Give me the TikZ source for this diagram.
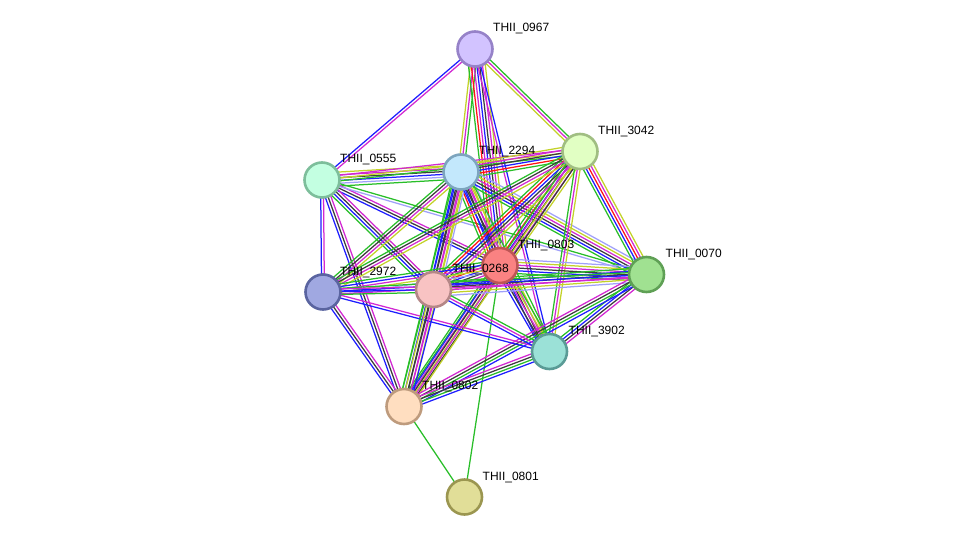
\documentclass[tikz,border=0pt]{standalone}
\usepackage{fontspec}
\setmainfont{Liberation Sans}
\usetikzlibrary{calc,backgrounds}
\definecolor{gn}{RGB}{40,190,40}
\definecolor{rd}{RGB}{255,20,20}
\definecolor{bl}{RGB}{30,30,255}
\definecolor{bk}{RGB}{60,60,60}
\definecolor{mg}{RGB}{210,40,210}
\definecolor{yl}{RGB}{195,210,40}
\definecolor{lb}{RGB}{160,160,250}
\definecolor{fA}{RGB}{210,195,255}\definecolor{dA}{RGB}{150,130,200}
\definecolor{fB}{RGB}{225,255,195}\definecolor{dB}{RGB}{160,190,130}
\definecolor{fC}{RGB}{195,255,225}\definecolor{dC}{RGB}{125,190,155}
\definecolor{fD}{RGB}{195,232,252}\definecolor{dD}{RGB}{125,165,190}
\definecolor{fE}{RGB}{250,130,130}\definecolor{dE}{RGB}{190,85,85}
\definecolor{fF}{RGB}{160,225,145}\definecolor{dF}{RGB}{95,160,85}
\definecolor{fG}{RGB}{160,168,225}\definecolor{dG}{RGB}{90,100,160}
\definecolor{fH}{RGB}{248,195,195}\definecolor{dH}{RGB}{180,135,135}
\definecolor{fI}{RGB}{155,225,215}\definecolor{dI}{RGB}{90,155,150}
\definecolor{fJ}{RGB}{255,222,192}\definecolor{dJ}{RGB}{190,155,125}
\definecolor{fK}{RGB}{225,222,152}\definecolor{dK}{RGB}{155,150,80}
\tikzset{
  prot/.style={circle,minimum size=35pt,inner sep=0pt,line width=2.6pt,fill=f#1,draw=d#1},
  lab/.style={anchor=west,inner sep=0pt,font=\fontsize{12}{14}\selectfont,text=black},
  edgeline/.style={line width=1.25pt}
}
\newcommand\edgeset[3]{%
  \foreach \c [count=\i] in {#3} {\xdef\ncount{\i}}%
  \foreach \c [count=\i] in {#3} {%
    \pgfmathsetmacro\o{(\i-(\ncount+1)/2)*2.8}%
    \draw[edgeline,draw=\c] ($(#1)!\o pt!90:(#2)$) -- ($(#2)!\o pt!-90:(#1)$);%
  }%
}
\begin{document}
\begin{tikzpicture}[x=1pt,y=-1pt]
\useasboundingbox (0,0) rectangle (976,543);
% nodes
\node[prot=A] (A) at (475,49) {};
\node[prot=B] (B) at (580,151.5) {};
\node[prot=C] (C) at (322,180) {};
\node[prot=D] (D) at (461,172) {};
\node[prot=E] (E) at (500,265.5) {};
\node[prot=F] (F) at (646.5,274.5) {};
\node[prot=G] (G) at (323,292) {};
\node[prot=H] (H) at (433.5,289.5) {};
\node[prot=I] (I) at (549.5,351.5) {};
\node[prot=J] (J) at (404,406.5) {};
\node[prot=K] (K) at (464.5,497) {};
% edges
\begin{scope}[on background layer]
\fill[white] (0,0) rectangle (976,543);
\edgeset{A}{C}{bl,mg}
\edgeset{A}{B}{yl,mg,gn}
\edgeset{A}{D}{yl,mg,gn}
\edgeset{A}{E}{gn,rd,mg,bl,bk,mg,yl}
\edgeset{A}{I}{mg,bl}
\edgeset{C}{D}{gn,lb,bl,bk,mg,yl}
\edgeset{C}{B}{gn,yl,mg}
\edgeset{C}{E}{bl,bk,mg}
\edgeset{C}{F}{lb,gn}
\edgeset{C}{G}{bl,mg}
\edgeset{C}{H}{gn,bl,bk,mg}
\edgeset{C}{J}{bl,bk,mg}
\edgeset{D}{B}{gn,rd,bl,bk,mg,yl}
\edgeset{D}{E}{gn,rd,bl,bk,mg,yl,lb}
\edgeset{D}{H}{gn,bl,bk,mg,yl,lb}
\edgeset{D}{G}{gn,bk,mg,yl}
\edgeset{D}{F}{gn,bl,bk,mg,yl,lb}
\edgeset{D}{I}{bl,bk,mg,yl,gn}
\edgeset{D}{J}{gn,bl,bk,mg,yl}
\edgeset{B}{E}{gn,rd,bl,bk,mg,yl}
\edgeset{B}{H}{gn,rd,bl,bk,mg,yl}
\edgeset{B}{G}{gn,bk,mg,yl}
\edgeset{B}{F}{gn,bl,rd,mg,yl}
\edgeset{B}{I}{gn,mg,yl}
\edgeset{B}{J}{gn,mg,yl,bk}
\edgeset{E}{F}{gn,bl,bk,mg,yl,lb}
\edgeset{E}{H}{gn,rd,bl,bk,mg,yl}
\edgeset{E}{G}{gn,bl,mg,yl,lb}
\edgeset{E}{I}{bl,bk,mg,yl,gn}
\edgeset{E}{J}{gn,bl,bk,mg,yl}
\edgeset{E}{K}{gn}
\edgeset{F}{H}{gn,bl,bk,mg,yl,lb}
\edgeset{F}{G}{gn,bl,mg}
\edgeset{F}{I}{gn,bl,bk,mg}
\edgeset{F}{J}{mg,bk,gn,bl}
\edgeset{G}{H}{gn,bl,mg}
\edgeset{G}{I}{bl,mg}
\edgeset{G}{J}{bl,bk,mg}
\edgeset{H}{I}{bl,mg,gn}
\edgeset{H}{J}{gn,yl,bk,mg,bl}
\edgeset{I}{J}{mg,bk,gn,bl}
\edgeset{J}{K}{gn}
\end{scope}
% labels
\node[lab] (lA) at ($(A)+(18,-20)$) {THII\_0967};
\node[lab] (lB) at ($(B)+(18,-20)$) {THII\_3042};
\node[lab] (lC) at ($(C)+(18,-20)$) {THII\_0555};
\node[lab] (lD) at ($(D)+(18,-20)$) {THII\_2294};
\node[lab] (lE) at ($(E)+(18,-20)$) {THII\_0803};
\node[lab] (lF) at ($(F)+(19,-20)$) {THII\_0070};
\node[lab] (lG) at ($(G)+(17,-20)$) {THII\_2972};
\node[lab] (lH) at ($(H)+(19,-20)$) {THII\_0268};
\node[lab] (lI) at ($(I)+(19,-20)$) {THII\_3902};
\node[lab] (lJ) at ($(J)+(18,-20)$) {THII\_0802};
\node[lab] (lK) at ($(K)+(18,-20)$) {THII\_0801};
\end{tikzpicture}
\end{document}
